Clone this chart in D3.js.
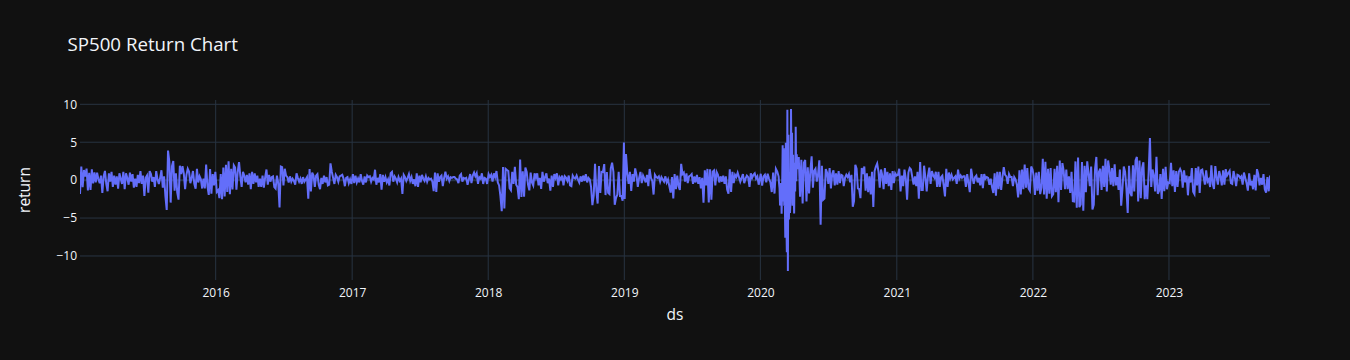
<!DOCTYPE html>
<html>
<head>
<meta charset="utf-8">
<script src="https://cdn.jsdelivr.net/npm/d3@7"></script>
<style>
  html, body { margin: 0; padding: 0; background: #111111; }
  svg { display: block; font-family: "Open Sans", verdana, arial, sans-serif; }
</style>
</head>
<body>
<div id="chart"></div>
<script>
/* ── SP500 Return Chart ─────────────────────────────────── */

// Daily returns (%), ~2 samples a week, one row per month
const ret2015 = [
  -1.83, 1.79, -0.92, 1.34, 0.47, 1.53, -1.35, 0.95, -1.30,
  1.44, -0.42, 1.03, -0.30, 0.98, 0.16, -0.40, 0.60,
  -1.70, 0.50, 1.21, -0.50, -1.46, 0.90, -0.20, 1.10, -0.90,
  0.60, -0.60, 0.50, -1.13, 0.90, 0.20, -0.50, 1.10,
  -1.20, 0.90, 0.30, -0.60, 1.00, -0.20, 0.80, -1.00, 0.20,
  -0.90, 0.70, -0.40, 1.20, -0.50, 0.60, -2.09, 0.30,
  0.60, -1.66, 1.20, 0.80, -0.20, 0.40, -0.90, 1.20, 0.10,
  -0.50, 0.30, 1.30, -1.00, 0.50, -2.11, -3.94, 3.90, 2.43,
  -2.96, 1.83, 2.51, -1.40, 0.90, -1.60, -2.57, 1.90, 0.80,
  1.83, 0.90, -1.20, 0.70, 1.50, 1.10, -0.40, 0.30,
  1.20, -0.50, -1.12, 1.49, -0.30, 0.50, 0.10, -1.10, 0.20,
  -1.10, 2.05, -0.80, -1.94, 1.45, -1.78, 0.80, -0.70, 1.10
];
const ret2016 = [
  -1.53, -1.31, -2.37, 0.80, -2.50, 1.67, -2.16, 2.03, -1.56,
  2.48, -1.87, 1.50, -1.23, 1.95, 1.65, -1.25, 1.10,
  2.39, 0.50, -0.90, 1.10, 0.60, -0.30, 0.70, -0.60, 0.90,
  -1.20, 1.10, -0.50, 0.90, -0.30, 0.60, -0.90, 0.20,
  -0.90, 0.60, -1.00, 0.40, 1.40, -0.60, 0.70, -0.20, 0.40,
  0.50, -0.90, -1.10, 0.60, -0.40, -3.59, 1.78, 1.70,
  -0.70, 1.50, 0.60, 0.40, -0.30, 0.50, -0.20, 0.20, -0.10,
  -0.60, 0.90, 0.30, -0.20, 0.20, -0.50, 0.40, -0.20, 0.10,
  0.40, -2.45, 1.47, -1.48, 1.00, 0.60, -0.90, 0.60, 0.80,
  -0.60, -1.20, 0.30, -0.50, 0.60, -0.30, 0.40, -0.70,
  -0.60, 2.22, 1.11, 0.30, -0.50, 0.70, 0.40, -0.20, 0.50,
  0.60, 0.70, 0.20, -0.80, 0.30, 0.40, -0.40, 0.10, -0.50
];
const ret2017 = [
  0.80, -0.40, 0.60, -0.30, 0.20, -0.30, 0.80, -0.10, -0.60,
  0.50, -0.30, 0.60, 0.40, 0.50, -0.20, 0.30, 0.10,
  1.37, -0.60, 0.30, -0.30, 0.80, -1.24, 0.70, -0.20, 0.40,
  -0.30, 0.10, -0.70, 0.90, 1.08, -0.20, 0.50, 0.20,
  -0.30, 0.40, -0.10, 0.20, -1.82, 0.70, 0.40, -0.10, 0.30,
  0.80, -0.10, 0.40, -0.50, 0.10, -0.80, 0.90, -0.90,
  0.60, -0.30, 0.70, 0.20, -0.10, 0.50, -0.20, 0.30, 0.10,
  0.20, -0.20, -1.45, 1.00, -1.54, 0.90, -0.20, 0.40, 0.60,
  -0.80, 0.30, 1.10, 0.20, 0.50, -0.10, 0.40, 0.30, 0.40,
  0.40, 0.20, 0.10, -0.40, 0.60, 0.80, -0.20, 0.30,
  0.20, 0.30, -0.60, 0.10, 0.80, -0.40, 0.60, 1.00, 0.50,
  0.90, -0.50, 0.40, 0.20, 0.90, -0.50, 0.30, 0.20, -0.50
];
const ret2018 = [
  0.80, 0.40, 0.70, -0.20, 0.90, 0.40, 1.20, -0.30, -0.70,
  -2.12, -4.10, 1.74, -3.75, 1.49, 1.34, 1.20, -1.07,
  -1.33, 1.10, -0.50, 1.74, -0.60, -0.90, -2.52, 2.72, -2.23,
  1.16, -2.19, 1.67, 1.07, -0.60, -1.34, 1.00, -0.30,
  -0.70, 0.90, 0.30, 0.90, -0.70, 0.30, -1.16, 1.10, -0.20,
  0.40, 0.90, -0.40, 0.20, -1.40, 0.60, -0.90, 0.80,
  0.30, 0.90, -0.70, 0.40, 0.10, 0.60, -0.70, 0.50, 0.30,
  -0.10, 0.60, -0.70, -0.80, 0.60, 0.30, 0.20, 0.60, 0.10,
  -0.30, 0.50, -0.20, 0.60, -0.10, 0.80, -0.30, 0.30, 0.10,
  -0.90, -3.29, -2.06, 2.15, -1.40, -3.09, 1.86, -1.70,
  1.09, 1.06, 2.12, -1.97, 1.05, -1.66, -1.82, 1.55, 2.30,
  1.10, -3.24, -2.33, -1.91, 1.10, -2.08, -2.06, -2.71, 4.96
];
const ret2019 = [
  -2.48, 3.43, 0.90, -0.50, 1.10, -1.42, 0.80, -0.20, 1.55,
  0.70, -0.90, 0.30, 1.09, -0.40, 0.60, 0.20, -0.30,
  0.70, -0.80, 1.47, 0.30, -0.10, -1.90, 0.70, 0.40, 0.30,
  0.50, -0.20, 0.40, 0.10, -0.20, 0.50, -0.30, 0.10,
  -0.80, -1.65, 0.40, -2.41, 0.80, -1.20, 0.60, -0.80, -1.30,
  2.14, 0.80, 1.00, -0.20, 0.90, -0.40, 0.50, 0.60,
  0.80, -0.50, 0.50, -0.30, 0.70, -0.50, 0.40, -1.09, 0.30,
  -2.98, 1.30, -0.70, 1.48, -2.93, 1.44, -2.59, 1.10, 1.27,
  -0.70, 1.08, 0.70, -0.30, 0.50, -0.20, 0.60, -0.50, 0.50,
  -1.23, -1.79, 1.42, -1.56, 1.09, -0.40, 0.70, 0.40,
  0.97, 0.40, -0.20, 0.30, 0.80, -0.40, 0.20, 0.60, 0.40,
  -0.90, 0.90, 0.30, 0.70, 0.90, 0.20, 0.50, -0.60, 0.30
];
const ret2020a = [
  0.84, -0.71, 0.49, 0.70, -0.30, 0.84, 0.20, -0.27, -1.57, 1.00, -1.77, 1.50, 1.13, 0.47
];
// Covid crash, one value per trading day (Feb 20 – Apr 9)
const ret2020crash = [
  -0.38, -1.05, -3.35, -3.03, -0.38, -4.42, -0.82, 4.60, -2.81, 4.22,
  -3.39, -1.71, -7.60, 4.94, -4.89, -9.51, 9.29, -11.98, 6.00, -5.18,
  0.47, -4.34, -2.93, 9.38, 1.15, 6.24, -3.37, 3.35, -1.60, -4.41,
  2.28, -1.51, 7.03, -0.16, 3.41, 1.45
];
const ret2020b = [
  3.06, -2.20, 2.68, -3.07, 2.29, 2.66,
  -2.81, 1.70, -1.75, 1.15, 3.15, -1.00, 1.23, 1.50, -0.20,
  0.80, 2.62, -5.89, 1.90, -2.59, -2.42, 1.47, 1.00, -0.50,
  1.60, -1.10, 0.80, 1.30, -0.70, 0.90, -0.60, 1.20, -0.40,
  0.70, 0.60, -0.80, 0.30, 0.70, 0.40, 0.80, -0.30, 0.70,
  -3.51, -2.78, 2.01, 1.50, -1.10, -1.20, -2.37, 1.60, 0.80,
  1.80, -1.40, 0.90, -1.60, 0.50, -1.90, 1.10, -3.53, 1.20,
  1.80, 2.20, 1.17, -1.00, 1.40, 0.60, -1.20, 1.60, -0.50,
  1.10, -0.80, 0.90, -1.30, 1.20, -0.40, 0.90, 0.60
];
const ret2021 = [
  0.70, 1.50, -1.50, 0.60, -0.80, 1.40, 0.20, -2.57, 1.00,
  1.60, 1.40, 0.40, -0.60, 0.50, -0.80, 1.10, -2.45,
  2.38, -1.30, -1.30, 1.90, 0.40, -1.48, 0.60, 1.65, -0.50,
  1.20, 0.60, 0.30, 1.10, -0.90, 1.10, -0.90, 0.40,
  0.60, -0.70, -2.14, 1.50, -0.90, 1.00, 0.20, 0.70, 0.10,
  0.30, 0.50, -0.50, 1.40, 0.20, 0.60, 0.30, 0.50,
  0.50, -0.90, 0.80, -0.40, -1.59, 1.50, 0.40, -0.50, 0.40,
  0.60, -0.30, 0.30, -0.70, 0.80, -1.07, 0.80, 0.20, 0.40,
  0.30, -0.60, 0.20, -0.90, -1.70, 0.90, -2.04, 1.10, -1.20,
  1.10, -1.30, 0.40, 1.70, 0.70, 0.50, -0.50, 0.80,
  0.40, 0.40, -0.80, 0.40, 0.10, -0.60, -2.27, 1.30, -1.90,
  1.40, -1.20, 2.07, -1.00, 1.60, -1.10, -1.40, 1.80, 1.40
];
const ret2022 = [
  0.60, -1.94, 1.00, -1.40, 1.10, -1.84, -1.00, 2.80, -1.90,
  2.43, -2.44, 1.50, -1.80, 1.60, -2.10, -1.84, 1.50,
  -1.60, 1.90, -2.90, 2.57, -1.30, 2.24, 1.20, -1.20, 1.40,
  -1.20, 0.50, -1.70, 1.10, -2.77, -2.81, 2.47, -3.63,
  2.99, -3.56, -3.20, 2.40, -4.04, 1.90, -1.60, 2.47, 0.90,
  -0.80, 1.80, -3.88, -3.25, 1.50, 3.06, -2.00, 1.10,
  1.50, -1.30, 1.90, -0.90, 2.80, -1.50, 2.60, 1.40, -0.60,
  1.60, -0.80, 2.10, -0.70, 0.40, -1.30, 1.40, -3.37, -1.10,
  1.80, 1.10, -1.13, -4.32, 1.90, -1.70, -2.11, 1.97, -1.50,
  2.59, 3.06, -2.80, 2.60, -2.37, 1.60, 2.37, -2.50,
  -0.70, -2.50, 0.90, 5.54, -0.90, 1.40, 0.60, -1.50, 3.09,
  -1.80, -1.40, 0.80, -2.49, 1.50, -1.45, 1.75, -1.20, -0.30
];
const ret2023 = [
  -0.40, 2.28, -0.80, 1.30, -1.56, 1.20, -0.90, 1.10, 1.46,
  1.05, -1.00, 1.30, -0.30, 0.60, -2.00, 0.50, -0.30,
  1.60, -1.53, -1.85, 1.60, -0.70, 1.80, -1.70, 1.30, 1.40,
  0.40, -0.60, 1.30, -0.20, 0.10, -0.90, 1.96, -0.50,
  -1.16, 1.85, 0.40, -0.60, 1.20, 0.50, -0.70, 1.30, -0.60,
  1.45, 0.60, 0.90, 1.20, -0.40, -0.50, 1.20, 0.40,
  -0.80, 0.70, 0.60, 0.30, 0.50, -0.60, 1.00, 0.30, -0.40,
  -1.38, 0.90, -0.70, -0.10, -1.20, 0.70, -1.35, 1.45, 0.80,
  -0.70, 0.30, -0.60, 0.80, -1.20, -1.64, 0.40, -1.47, 0.60
];

// Date span covered by each block of samples
const segments = [
  { from: '2015-01-02', to: '2015-12-31', values: ret2015 },
  { from: '2016-01-04', to: '2016-12-30', values: ret2016 },
  { from: '2017-01-03', to: '2017-12-29', values: ret2017 },
  { from: '2018-01-02', to: '2018-12-31', values: ret2018 },
  { from: '2019-01-02', to: '2019-12-31', values: ret2019 },
  { from: '2020-01-02', to: '2020-02-19', values: ret2020a },
  { from: '2020-02-20', to: '2020-04-09', values: ret2020crash },
  { from: '2020-04-13', to: '2020-12-31', values: ret2020b },
  { from: '2021-01-04', to: '2021-12-31', values: ret2021 },
  { from: '2022-01-03', to: '2022-12-30', values: ret2022 },
  { from: '2023-01-03', to: '2023-09-29', values: ret2023 }
];

const yTicks = [-10, -5, 0, 5, 10];

const parse = d3.utcParse('%Y-%m-%d');
const data = segments.flatMap(s => {
  const t0 = +parse(s.from), t1 = +parse(s.to), n = s.values.length;
  return s.values.map((v, i) => ({ ds: new Date(t0 + (t1 - t0) * i / (n - 1)), ret: v }));
});

// ── Layout ─────────────────────────────────────────────────
const width = 1350, height = 360;
const marginL = 80, marginR = 80, marginT = 100, marginB = 80;
const plotW = width - marginL - marginR;
const plotH = height - marginT - marginB;

const svg = d3.select('#chart').append('svg')
  .attr('width', width)
  .attr('height', height);

svg.append('rect').attr('width', width).attr('height', height).attr('fill', '#111111');

const g = svg.append('g').attr('transform', `translate(${marginL},${marginT})`);

// Scales (plotly-style autorange: 5% pixel padding on y)
const x = d3.scaleUtc().domain(d3.extent(data, d => d.ds)).range([0, plotW]);
const [yMin, yMax] = d3.extent(data, d => d.ret);
const pad = (yMax - yMin) * 0.05 / 0.9;
const y = d3.scaleLinear().domain([yMin - pad, yMax + pad]).range([plotH, 0]);

// Grid lines
const xTicks = x.ticks(d3.utcYear.every(1));
g.append('g').selectAll('line')
  .data(xTicks)
  .join('line')
  .attr('x1', d => x(d)).attr('x2', d => x(d))
  .attr('y1', 0).attr('y2', plotH)
  .attr('stroke', '#283442')
  .attr('stroke-width', 1);

g.append('g').selectAll('line')
  .data(yTicks)
  .join('line')
  .attr('x1', 0).attr('x2', plotW)
  .attr('y1', d => y(d)).attr('y2', d => y(d))
  .attr('stroke', '#283442')
  .attr('stroke-width', d => d === 0 ? 2 : 1);

// Return line
g.append('clipPath').attr('id', 'plot-clip')
  .append('rect').attr('width', plotW).attr('height', plotH);

g.append('path')
  .datum(data)
  .attr('clip-path', 'url(#plot-clip)')
  .attr('fill', 'none')
  .attr('stroke', '#636efa')
  .attr('stroke-width', 2)
  .attr('d', d3.line().x(d => x(d.ds)).y(d => y(d.ret)));

// Axes (labels only, no domain/ticks)
const yAxis = g.append('g')
  .call(d3.axisLeft(y).tickValues(yTicks).tickSize(0).tickPadding(3));
const xAxis = g.append('g')
  .attr('transform', `translate(0,${plotH})`)
  .call(d3.axisBottom(x).tickValues(xTicks).tickFormat(d3.utcFormat('%Y')).tickSize(0).tickPadding(8));

[xAxis, yAxis].forEach(a => {
  a.select('.domain').remove();
  a.selectAll('text')
    .attr('fill', '#f2f5fa')
    .attr('font-size', 12)
    .attr('font-family', '"Open Sans", verdana, arial, sans-serif');
});

// Titles
svg.append('text')
  .attr('x', 67.5)
  .attr('y', 51)
  .attr('fill', '#f2f5fa')
  .attr('font-size', 18.7)
  .text('SP500 Return Chart');

svg.append('text')
  .attr('x', marginL + plotW / 2)
  .attr('y', 320)
  .attr('text-anchor', 'middle')
  .attr('fill', '#f2f5fa')
  .attr('font-size', 15.5)
  .text('ds');

svg.append('text')
  .attr('transform', `translate(30,${marginT + plotH / 2}) rotate(-90)`)
  .attr('text-anchor', 'middle')
  .attr('fill', '#f2f5fa')
  .attr('font-size', 15.5)
  .text('return');
</script>
</body>
</html>
